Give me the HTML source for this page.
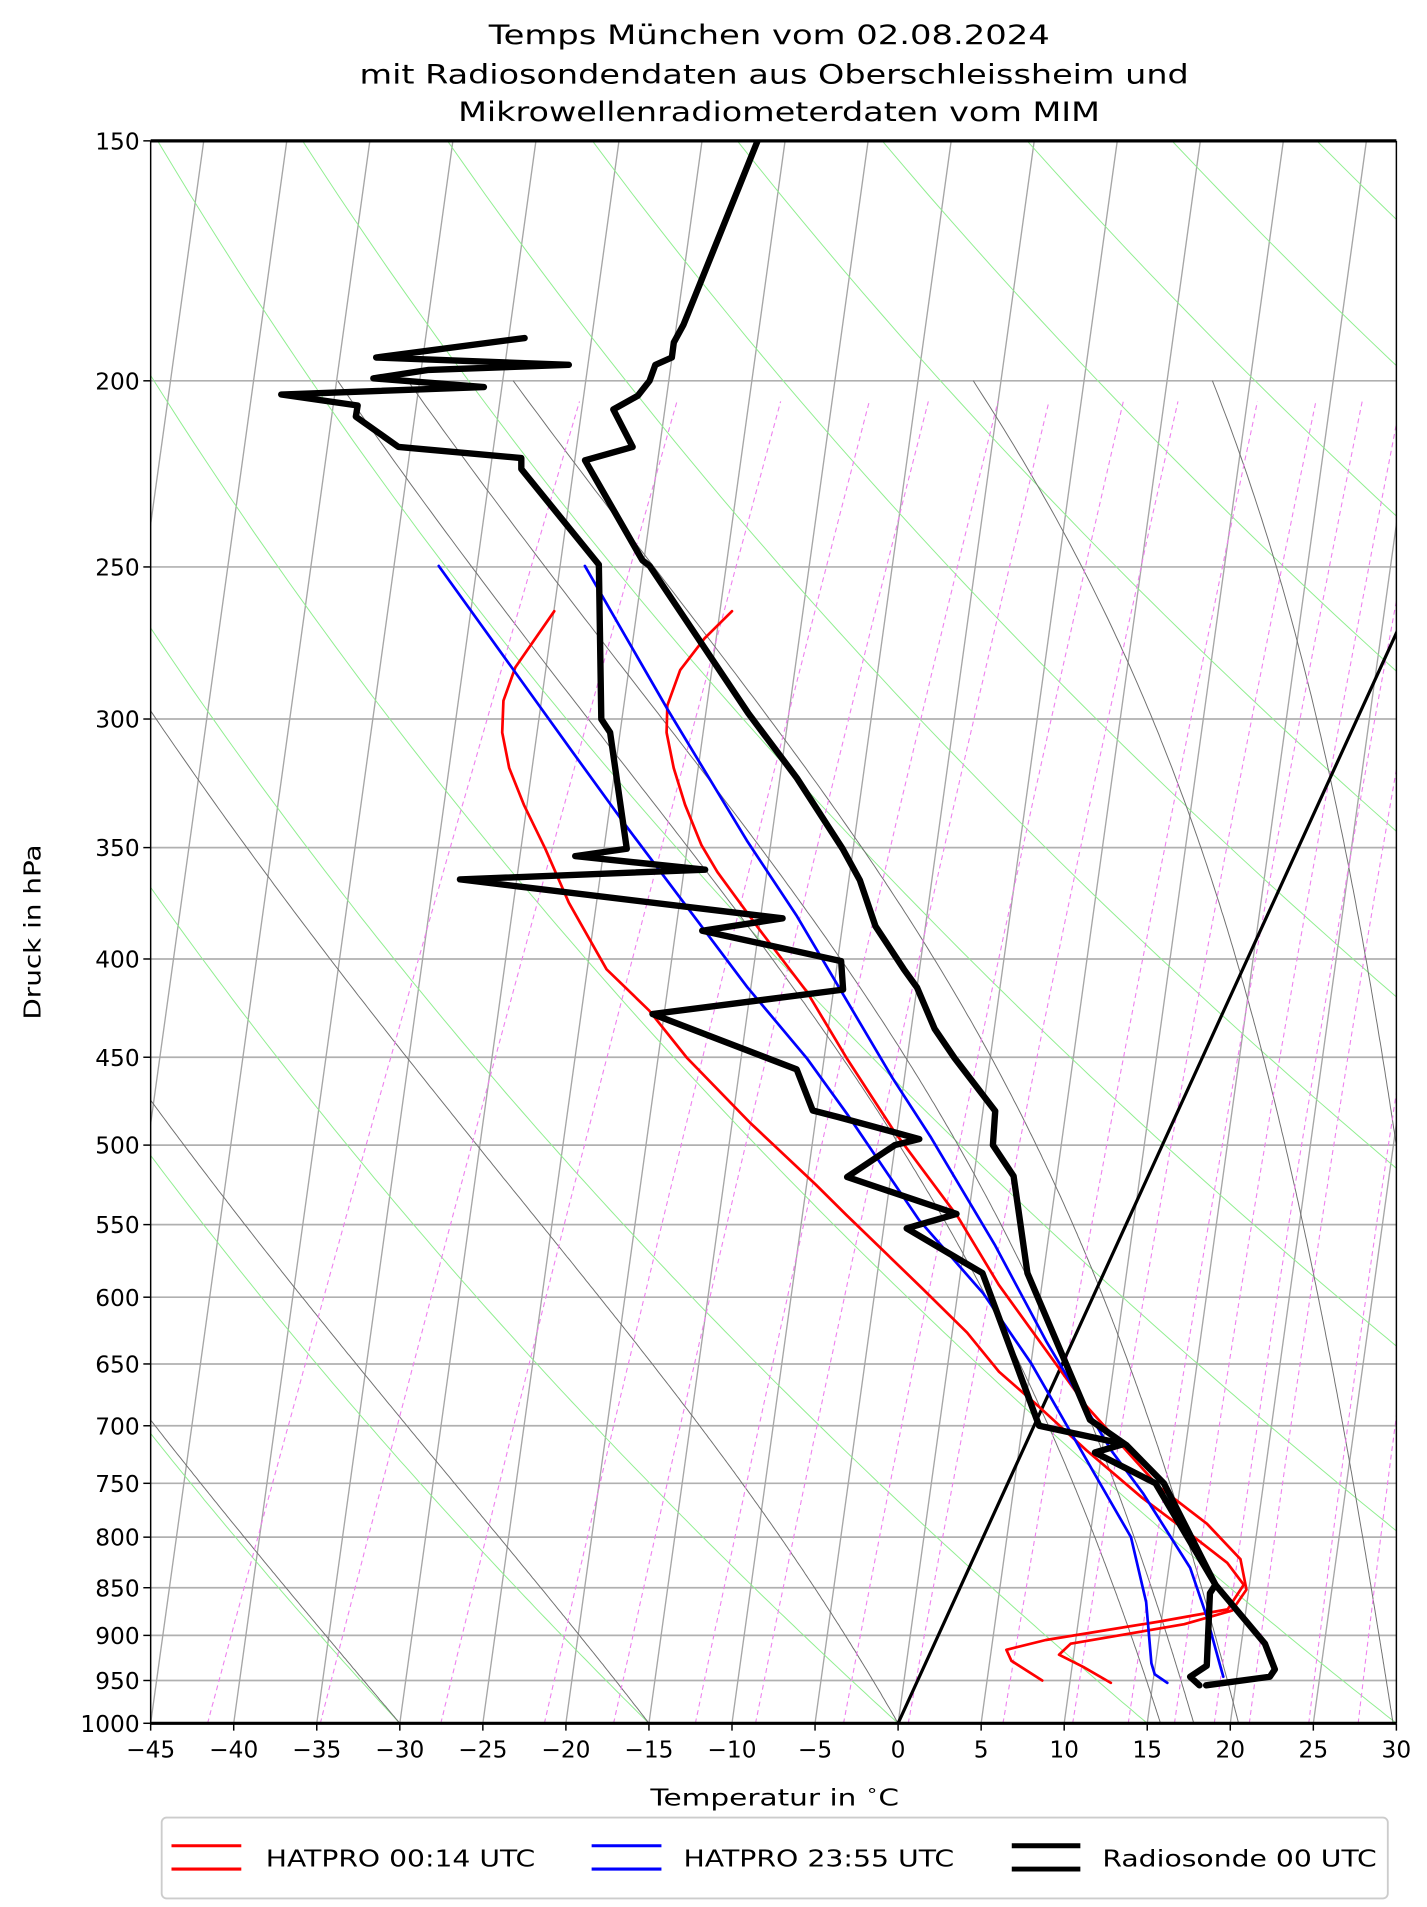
<!DOCTYPE html>
<html><head><meta charset="utf-8"><title>Temps München</title>
<style>
html,body{margin:0;padding:0;background:#fff;}
svg{display:block;}
text{font-family:"DejaVu Sans","Liberation Sans",sans-serif;fill:#000;}
</style></head>
<body>
<svg id="chart" xmlns="http://www.w3.org/2000/svg" width="1427" height="1907" viewBox="0 0 1165 1557" preserveAspectRatio="none">
  <defs><clipPath id="clip"><rect x="123" y="115" width="1017" height="1292"/></clipPath></defs>
  <rect x="0" y="0" width="1165" height="1557" fill="#fff"/>
  <g text-anchor="middle">
    <text x="628" y="36" font-size="22" textLength="458" lengthAdjust="spacingAndGlyphs">Temps München vom 02.08.2024</text>
    <text x="632" y="68" font-size="22" textLength="677" lengthAdjust="spacingAndGlyphs">mit Radiosondendaten aus Oberschleissheim und</text>
    <text x="636" y="99" font-size="22" textLength="524" lengthAdjust="spacingAndGlyphs">Mikrowellenradiometerdaten vom MIM</text>
  </g>
  <g id="bg" clip-path="url(#clip)"></g>
  <g id="data" clip-path="url(#clip)"></g>
  <g id="axes"></g>
  <text x="531" y="1474" font-size="19" textLength="203" lengthAdjust="spacingAndGlyphs">Temperatur in <tspan dy="-8" font-size="13">∘</tspan><tspan dy="8">C</tspan></text>
  <text transform="translate(33,761) rotate(-90)" text-anchor="middle" font-size="19" textLength="143" lengthAdjust="spacingAndGlyphs">Druck in hPa</text>
  <g>
    <rect x="132" y="1484" width="1001" height="66" rx="4" fill="#fff" stroke="#ccc" stroke-width="1.5"/>
    <g>
      <line x1="140" y1="1507" x2="197" y2="1507" stroke="#ff0000" stroke-width="2.5"/>
      <line x1="140" y1="1526" x2="197" y2="1526" stroke="#ff0000" stroke-width="2.5"/>
      <text x="217" y="1524" font-size="19" textLength="220" lengthAdjust="spacingAndGlyphs">HATPRO 00:14 UTC</text>
    </g>
    <g>
      <line x1="483" y1="1507" x2="540" y2="1507" stroke="#0000ff" stroke-width="2.5"/>
      <line x1="483" y1="1526" x2="540" y2="1526" stroke="#0000ff" stroke-width="2.5"/>
      <text x="558" y="1524" font-size="19" textLength="221" lengthAdjust="spacingAndGlyphs">HATPRO 23:55 UTC</text>
    </g>
    <g>
      <line x1="826" y1="1507" x2="882" y2="1507" stroke="#000" stroke-width="4"/>
      <line x1="826" y1="1526" x2="882" y2="1526" stroke="#000" stroke-width="4"/>
      <text x="900" y="1524" font-size="19" textLength="224" lengthAdjust="spacingAndGlyphs">Radiosonde 00 UTC</text>
    </g>
  </g>
</svg>
<script>
// ---- data (pressure hPa / temperature °C) ----
const pressureTicks = [1000,950,900,850,800,750,700,650,600,550,500,450,400,350,300,250,200,150];
const tempTicks = [-45,-40,-35,-30,-25,-20,-15,-10,-5,0,5,10,15,20,25,30];

const sondeTP = [955.5,945.7,937.5,909,847,750,716.5,695,583,519,500,480,450.5,435,414,405,384.5,364,350.5,322,298,249.7,248,220,216.5,207,203.6,200,196.2,194.5,191,187,150];
const sondeT  = [17.5,21.1,21.2,19.9,15.3,9.4,6.1,3.2,-4.6,-8.1,-10.2,-11.0,-14.9,-16.9,-19.1,-20.4,-23.3,-25.5,-27.4,-32.1,-36.8,-46.8,-47.4,-53.6,-51.1,-53.3,-52.2,-51.9,-52.0,-51.2,-51.5,-51.4,-52.0];

const sondeDP = [955.5,945.7,933.3,855.6,847,750,722.8,715.5,700,583,552.5,543,519.5,500,496.4,483.4,479.7,456.6,427.3,415,401,386.7,381,363.6,359.4,353.6,350.5,304.9,300,249.3,222.3,219.4,216.5,208.8,206,203.3,201.5,199.4,197.4,196.2,194.5,190];
const sondeTd = [17.1,16.3,17.0,15.2,15.3,8.9,4.4,5.9,0.3,-7.3,-13.1,-10.5,-18.1,-16.1,-14.8,-20.3,-22.0,-24.1,-34.3,-23.5,-24.4,-33.6,-29.1,-49.6,-35.1,-43.3,-40.4,-44.6,-45.5,-49.9,-57.2,-57.5,-65.2,-68.6,-68.8,-73.7,-61.7,-68.6,-65.5,-57.2,-69.0,-60.6];

const hat1TP = [952.7,934.7,921,909,888,873.6,852,821.4,787.2,753.2,683.6,591.2,545.3,492,450.5,416.2,386.7,360.4,349,332.5,318.1,304.9,295.2,282.9,272.3,263.6];
const hat1T  = [11.7,9.6,7.8,8.2,14.5,17.0,17.3,16.1,13.1,9.2,2.6,-6.0,-10.3,-16.5,-21.4,-25.6,-30.1,-34.3,-36.0,-38.1,-39.8,-41.2,-41.9,-42.1,-41.5,-40.6];

const hat1DP = [950,927.8,915.7,905,885.2,872.3,847,825,791.8,763.2,720.7,683.6,656.1,626,593.8,543.7,524.1,487,450.5,425.5,405,373.9,350.5,332.5,318.1,304.9,293.5,282,263.6];
const hat1Td = [7.5,5.1,4.5,6.6,12.9,16.7,17.0,15.4,11.8,8.5,3.8,-0.3,-3.6,-6.6,-10.5,-17.1,-19.8,-25.4,-31.0,-34.6,-38.3,-42.4,-45.3,-47.8,-49.7,-51.1,-51.9,-52.1,-51.3];

const hat2TP = [945.7,930.6,878.8,829.9,758.8,720.7,632.5,564,494.9,461.3,380,347,297,249.7];
const hat2T  = [18.3,17.7,15.6,13.3,8.4,5.3,-1.6,-7.3,-14.2,-18.1,-28.3,-33.4,-41.7,-50.7];

const hat2DP = [952.7,943,930.6,864.7,800,743.4,649.4,597.3,546.9,482,450.5,414,341.4,311.7,249.7];
const hat2Td = [15.1,14.1,13.6,11.6,8.9,5.1,-1.9,-6.7,-12.6,-19.8,-23.8,-29.3,-41.0,-46.4,-59.5];

// reference-line parameters
const dryThetas = [228.15,243.15,258.15,273.15,288.15,303.15,318.15,333.15,348.15,363.15,378.15,393.15,408.15,423.15,438.15,453.15];
const moistT0 = [-30,-15,0,15.8,17.8,20.5,29.8,34.5];
const mixingRatios = [0.1,0.2,0.4,0.7,1,1.5,2,3,4,6,8,10,12,14,16,20,24,28];
const gridBaseTemps = [-55,-50,-45,-40,-35,-30,-25,-20,-15,-10,-5,0,5,10,15,20,25,30];

// ---- axis functions ----
const X0=123,X1=1140,Y0=115,Y1=1407,SKEW=0.457,GSKEW=0.1385;
const KX=(X1-X0)/75;
function yP(p){return Y1-Math.log(1000/p)/Math.log(1000/150)*(Y1-Y0);}
function xT(T,p){return X0+(T+45)*KX+SKEW*(Y1-yP(p));}
const NS='http://www.w3.org/2000/svg';
const bg=document.getElementById('bg'),dataG=document.getElementById('data'),axes=document.getElementById('axes');
function mk(tag,parent,attrs){const e=document.createElementNS(NS,tag);for(const k in attrs)e.setAttribute(k,attrs[k]);parent.appendChild(e);return e;}
function pathFrom(pts){return pts.map((q,i)=>(i?'L':'M')+q[0].toFixed(1)+','+q[1].toFixed(1)).join('');}

// horizontal isobars
pressureTicks.forEach(p=>{
  const l=mk('line',bg,{x1:X0,x2:X1,y1:yP(p),y2:yP(p),stroke:'#b0b0b0','stroke-width':1.4});
  
  
});
// steep gray grid lines
gridBaseTemps.forEach(t=>{
  const xb=X0+(t+45)*KX;
  const l=mk('line',bg,{x1:xb,y1:Y1,x2:xb+GSKEW*(Y1-Y0),y2:Y0,stroke:'#a6a6a6','stroke-width':1.1});
  
  
});
// dry adiabats
dryThetas.forEach(th=>{
  const pts=[];for(let p=1000;p>=150;p-=5){pts.push([xT(th*Math.pow(p/1000,0.2857)-273.15,p),yP(p)]);}
  const e=mk('path',bg,{d:pathFrom(pts),fill:'none',stroke:'#90ee90','stroke-width':0.8});
  
  
});
// moist adiabats
function es(Tc){return 6.112*Math.exp(17.67*Tc/(Tc+243.5));}
function dTdp(p,T){const e=es(T-273.15);const rs=0.622*e/(p-e);const Rd=287.04,Cp=1005.7,Lv=2.501e6;
  return (Rd*T+Lv*rs)/(Cp+Lv*Lv*rs*0.622/(Rd*T*T))/p;}
moistT0.forEach(t0=>{
  let T=t0+273.15;const pts=[[xT(t0,1000),yP(1000)]];const h=-2;
  for(let p=1000;p>200;p+=h){
    const k1=dTdp(p,T),k2=dTdp(p+h/2,T+h/2*k1),k3=dTdp(p+h/2,T+h/2*k2),k4=dTdp(p+h,T+h*k3);
    T+=h/6*(k1+2*k2+2*k3+k4);pts.push([xT(T-273.15,p+h),yP(p+h)]);
  }
  const e=mk('path',bg,{d:pathFrom(pts),fill:'none',stroke:'#707070','stroke-width':0.8});
  
  
});
// mixing ratio lines
mixingRatios.forEach(w=>{
  const pts=[];for(let p=1000;p>=205;p-=5){const e=w*p/(622+w);const l=Math.log(e/6.112);const td=243.5*l/(17.67-l);pts.push([xT(td,p),yP(p)]);}
  const e=mk('path',bg,{d:pathFrom(pts),fill:'none',stroke:'#ee82ee','stroke-width':0.9,'stroke-dasharray':'4,3'});
  
  
});
// 0 °C isotherm
const iso=mk('line',bg,{x1:xT(0,1000),y1:yP(1000),x2:xT(0,150),y2:yP(150),stroke:'#000','stroke-width':2.6});



// data traces
function trace(ps,ts,color,w,name){
  const pts=ps.map((p,i)=>[xT(ts[i],p),yP(p)]);
  const e=mk('path',dataG,{d:pathFrom(pts),fill:'none',stroke:color,'stroke-width':w,'stroke-linejoin':'round','stroke-linecap':'round'});
  
  
}
trace(hat1DP,hat1Td,'#ff0000',2.2,'hatpro-0014-dewpoint');
trace(hat1TP,hat1T,'#ff0000',2.2,'hatpro-0014-temperature');
trace(hat2DP,hat2Td,'#0000ff',2.2,'hatpro-2355-dewpoint');
trace(hat2TP,hat2T,'#0000ff',2.2,'hatpro-2355-temperature');
trace(sondeDP,sondeTd,'#000',5.2,'radiosonde-dewpoint');
trace(sondeTP,sondeT,'#000',5.2,'radiosonde-temperature');

// axes frame
mk('line',axes,{x1:X0,y1:Y0,x2:X0,y2:Y1,stroke:'#000','stroke-width':1.2});
mk('line',axes,{x1:X1,y1:Y0,x2:X1,y2:Y1,stroke:'#000','stroke-width':1.2});
mk('line',axes,{x1:X0,y1:Y0,x2:X1,y2:Y0,stroke:'#000','stroke-width':2.6});
mk('line',axes,{x1:X0,y1:Y1,x2:X1,y2:Y1,stroke:'#000','stroke-width':2.6});
pressureTicks.forEach(p=>{
  const y=yP(p);
  mk('line',axes,{x1:X0-6,x2:X0,y1:y,y2:y,stroke:'#000','stroke-width':1.2});
  const t=mk('text',axes,{x:X0-9,y:y+7,'text-anchor':'end','font-size':19});
  t.textContent=String(p);
  
  
});
tempTicks.forEach(T=>{
  const x=X0+(T+45)*KX;
  mk('line',axes,{x1:x,x2:x,y1:Y1,y2:Y1+6,stroke:'#000','stroke-width':1.2});
  const t=mk('text',axes,{x:x,y:Y1+28,'text-anchor':'middle','font-size':19});
  t.textContent=T<0?'\u2212'+Math.abs(T):String(T);
  
  
});
</script>
</body></html>
